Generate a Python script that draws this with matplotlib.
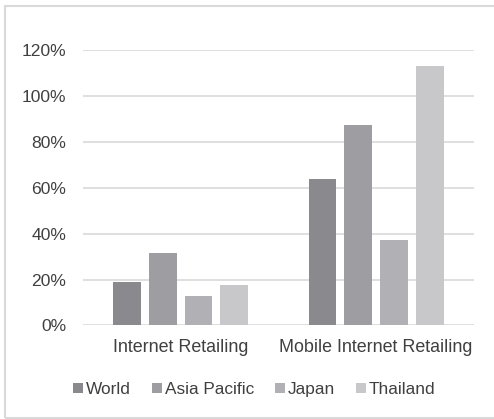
import numpy as np
import matplotlib.pyplot as plt
from matplotlib.patches import Rectangle

categories = ["Internet Retailing", "Mobile Internet Retailing"]
series = ["World", "Asia Pacific", "Japan", "Thailand"]
world = [0.19, 0.637]
asia_pacific = [0.314, 0.875]
japan = [0.13, 0.372]
thailand = [0.176, 1.13]
yticks = [0, 0.2, 0.4, 0.6, 0.8, 1.0, 1.2]

values = [world, asia_pacific, japan, thailand]
colors = ["#8a8a8e", "#9e9ea2", "#b1b1b5", "#c8c8ca"]
text_color = "#404040"

plt.rcParams["font.family"] = ["Liberation Sans", "DejaVu Sans"]
plt.rcParams["font.size"] = 12.9

fig = plt.figure(figsize=(4.94, 4.19), dpi=100)
ax = fig.add_axes([0.1674, 0.2232, 0.7921, 0.6575])

x = np.arange(len(categories))
step, width = 0.1825, 0.1415
for i, (name, vals, c) in enumerate(zip(series, values, colors)):
    ax.bar(x + (i - 1.5) * step, vals, width, color=c, label=name, zorder=3)

ax.set_xlim(-0.5, 1.5)
ax.set_ylim(0, 1.2)
ax.set_yticks(yticks)
ax.set_yticklabels([f"{int(round(t * 100))}%" for t in yticks])
ax.set_xticks(x)
ax.set_xticklabels(categories)
ax.yaxis.grid(True, color="#d9d9d9", linewidth=1.2, zorder=0)
ax.tick_params(axis="both", length=0, colors=text_color)
ax.tick_params(axis="y", pad=12, labelsize=12.6)
ax.tick_params(axis="x", pad=10, labelsize=12.9)
for s in ax.spines.values():
    s.set_visible(False)

fig.legend(loc="center", bbox_to_anchor=(254.4 / 494, 1 - 389.5 / 419), ncol=4,
           frameon=False, fontsize=12.4, handlelength=0.58, handleheight=0.58,
           handletextpad=0.19, columnspacing=1.19, labelcolor=text_color,
           borderaxespad=0, borderpad=0)

# light frame around the whole chart (right edge falls outside the canvas)
fig.patches.append(Rectangle((5 / 494, 1 - 418 / 419), 1.1, 412 / 419,
                             transform=fig.transFigure, fill=False,
                             edgecolor="#d9d9d9", linewidth=1.5))

fig.savefig("out.png", dpi=100)
